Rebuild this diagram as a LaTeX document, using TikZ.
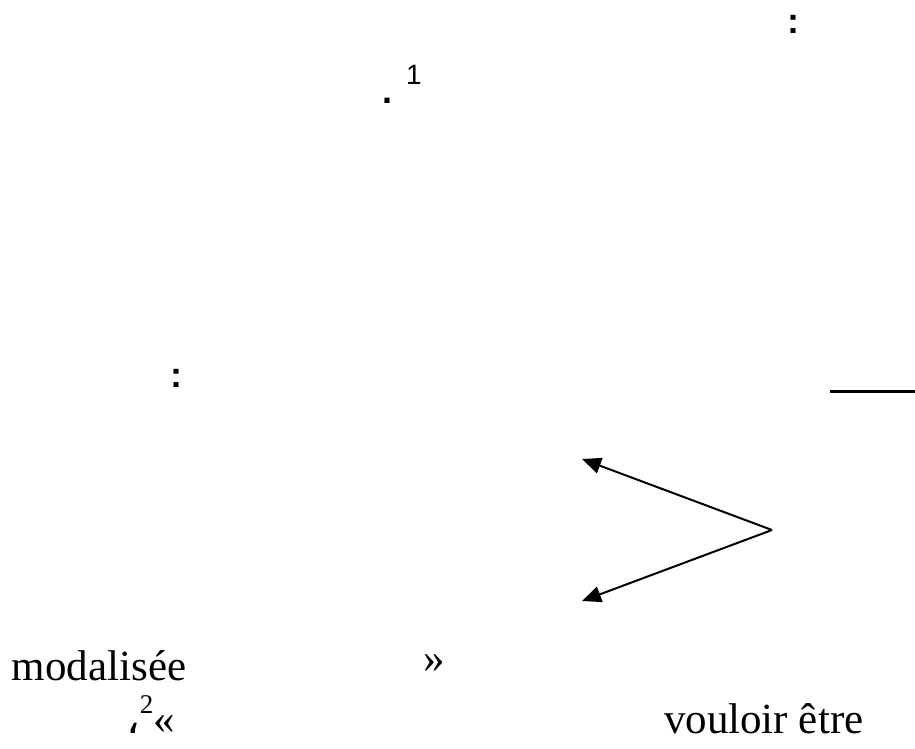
\documentclass[tikz,border=0pt]{standalone}
\usepackage{fontspec}
\setmainfont{Liberation Serif}
\newfontfamily\arabicfont[Script=Arabic]{DejaVu Sans}
\newfontfamily\puncfont{Liberation Sans}
\usetikzlibrary{arrows,arrows.meta}
\usetikzlibrary{positioning}
\tikzset{
    bigtext/.style={font=\fontsize{43}{50}\selectfont},
    punc/.style={font=\puncfont\bfseries\fontsize{36}{44}\selectfont},
    branch/.style={line width=2pt, -{Triangle[length=19pt,width=16pt]}},
    rule/.style={line width=3pt}
}
\begin{document}
\begin{tikzpicture}[x=1pt, y=-1pt]
    \useasboundingbox (0,0) rectangle (915,749);
    \tikzstyle{every node}=[inner sep=0pt, outer sep=0pt];
    % punctuation left over from the lines above
    \node[punc, anchor=base] (colA) at (793,34) {:};
    \node[punc, anchor=base] (dotA) at (387,104) {.};
    \node[font=\puncfont\fontsize{28}{32}\selectfont, anchor=base] (noteA) at (414,85) {1};
    \node[punc, anchor=base] (colB) at (176,387) {:};
    % short rule on the right
    \coordinate (r1) at (830,391);
    \coordinate (r2) at (915,391);
    \draw[rule] (r1) -- (r2);
    % the two branches
    \coordinate (apex) at (772,530);
    \coordinate (tipU) at (582,459);
    \coordinate (tipD) at (582,601);
    \draw[branch] (apex) -- (tipU);
    \draw[branch] (apex) -- (tipD);
    % French words
    \node[bigtext, anchor=base west] (modal) at (12,680) {modalisée};
    \node[bigtext, anchor=base west] (gclose) at (423,672) {»};
    \node[bigtext, anchor=base west] (gopen) at (126,733) {{\arabicfont ،}\raisebox{0.45em}{\fontsize{27}{27}\selectfont 2}«};
    \node[bigtext, anchor=base west] (vouloir) at (664,733) {vouloir être};
\end{tikzpicture}
\end{document}
